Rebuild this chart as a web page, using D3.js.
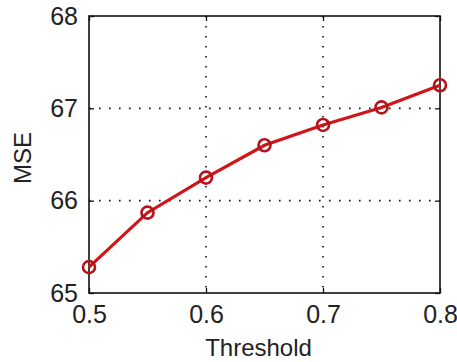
<!DOCTYPE html>
<html><head><meta charset="utf-8">
<script src="https://cdn.jsdelivr.net/npm/d3@7/dist/d3.min.js"></script>
<style>
html,body{margin:0;padding:0;background:#fff;}
svg{display:block;}
text{font-family:"Liberation Sans",Arial,sans-serif;fill:#222;}
</style></head><body>
<svg id="c" width="457" height="362"></svg>
<script>
const thresholds = [0.5, 0.55, 0.6, 0.65, 0.7, 0.75, 0.8];
const mse = [65.28, 65.87, 66.25, 66.60, 66.82, 67.01, 67.25];
const xTicks = [0.5, 0.6, 0.7, 0.8];
const yTicks = [65, 66, 67, 68];
const xLabel = "Threshold";
const yLabel = "MSE";

const svg = d3.select("#c");
const L = 89, R = 440, T = 16, B = 293;
const x = d3.scaleLinear().domain([0.5, 0.8]).range([L, R]);
const y = d3.scaleLinear().domain([65, 68]).range([B, T]);

// grid
const g = svg.append("g");
g.selectAll(".vg").data(xTicks.slice(1, -1)).enter().append("line")
  .attr("x1", d => x(d)).attr("x2", d => x(d)).attr("y1", T).attr("y2", B)
  .attr("stroke", "#111").attr("stroke-width", 1.6).attr("stroke-dasharray", "1.6,8.4");
g.selectAll(".hg").data(yTicks.slice(1, -1)).enter().append("line")
  .attr("y1", d => y(d)).attr("y2", d => y(d)).attr("x1", L).attr("x2", R)
  .attr("stroke", "#111").attr("stroke-width", 1.6).attr("stroke-dasharray", "1.6,8.4");

// axes with inward ticks
const ax = svg.append("g");
ax.append("g").attr("transform", `translate(0,${B})`)
  .call(d3.axisBottom(x).tickValues(xTicks).tickSizeInner(-5).tickSizeOuter(0).tickPadding(12).tickFormat(d3.format(".1f")))
  .call(s => { s.select(".domain").remove(); s.selectAll("text").attr("font-size", 25).attr("dy", "0.71em"); });
ax.append("g").attr("transform", `translate(0,${T})`)
  .call(d3.axisTop(x).tickValues(xTicks).tickSizeInner(-5).tickSizeOuter(0).tickFormat(""))
  .call(s => s.select(".domain").remove());
ax.append("g").attr("transform", `translate(${L},0)`)
  .call(d3.axisLeft(y).tickValues(yTicks).tickSizeInner(-5).tickSizeOuter(0).tickPadding(11).tickFormat(d3.format("d")))
  .call(s => { s.select(".domain").remove(); s.selectAll("text").attr("font-size", 25); });
ax.append("g").attr("transform", `translate(${R},0)`)
  .call(d3.axisRight(y).tickValues(yTicks).tickSizeInner(-5).tickSizeOuter(0).tickFormat(""))
  .call(s => s.select(".domain").remove());
ax.selectAll(".tick line").attr("stroke", "#111").attr("stroke-width", 1.3);

// box
svg.append("rect").attr("x", L).attr("y", T).attr("width", R - L).attr("height", B - T)
  .attr("fill", "none").attr("stroke", "#111").attr("stroke-width", 1.6);

// line
const pts = thresholds.map((t, i) => [t, mse[i]]);
svg.append("path").datum(pts)
  .attr("d", d3.line().x(d => x(d[0])).y(d => y(d[1])))
  .attr("fill", "none").attr("stroke", "#d01418").attr("stroke-width", 3.2);
svg.selectAll(".m").data(pts).enter().append("circle")
  .attr("cx", d => x(d[0])).attr("cy", d => y(d[1])).attr("r", 6)
  .attr("fill", "none").attr("stroke", "#b3141c").attr("stroke-width", 2.6);

// labels
svg.append("text").attr("x", (L + R) / 2 - 6).attr("y", 356).attr("text-anchor", "middle")
  .attr("font-size", 24).text(xLabel);
svg.append("text").attr("transform", `translate(31,158) rotate(-90)`).attr("text-anchor", "middle")
  .attr("font-size", 24).text(yLabel);
</script></body></html>
